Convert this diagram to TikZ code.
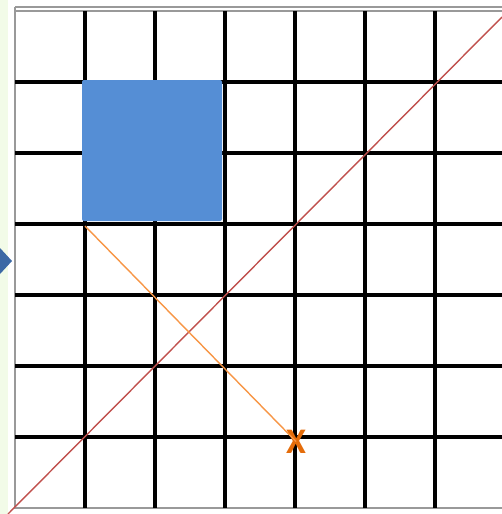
\documentclass[tikz,border=0pt]{standalone}
\usepackage{fontspec}
\setmainfont{Carlito}
\definecolor{stripgreen}{RGB}{242,251,232}
\definecolor{boxblue}{RGB}{85,142,213}
\definecolor{arrowblue}{RGB}{60,105,165}
\definecolor{diagred}{RGB}{192,80,77}
\definecolor{pathorange}{RGB}{247,150,70}
\definecolor{markorange}{RGB}{228,108,10}
\begin{document}
\begin{tikzpicture}[x=1pt, y=-1pt,
  gridline/.style={line width=3.2pt, black},
  frameline/.style={line width=1.2pt, gray!80}]

				\useasboundingbox (0,0) rectangle (502,514);
				% pale strip and arrow tip on the left
				\fill[stripgreen] (0,0) rectangle (8,514);
				\fill[arrowblue] (0,248) -- (12,261) -- (0,274) -- cycle;

				% outer frame
				\draw[frameline] (15,7) -- (502,7);
				\draw[frameline] (15,11) -- (502,11);
				\draw[frameline] (15,7) -- (15,508) -- (502,508);

				% grid
				\foreach \gx in {85,155,225,295,365,435}
					\draw[gridline] (\gx,11) -- (\gx,508);
				\foreach \gy in {82,153,224,295,366,437}
					\draw[gridline] (15,\gy) -- (502,\gy);

				% blue block
				\fill[boxblue, rounded corners=2pt] (82,80) rectangle (222,221);

				% diagonal
				\coordinate (diagstart) at (8,514);
				\coordinate (diagend) at (502,17);
				\draw[line width=1.4pt, diagred] (diagstart) -- (diagend);

				% path from the block to the mark
				\coordinate (blockcorner) at (85,226);
				\node[markorange, font=\fontsize{36}{36}\selectfont\bfseries, inner sep=0pt] (mark) at (296,441.5) {X};
				\draw[line width=1.4pt, pathorange] (blockcorner) -- (mark.center);

\end{tikzpicture}
\end{document}
